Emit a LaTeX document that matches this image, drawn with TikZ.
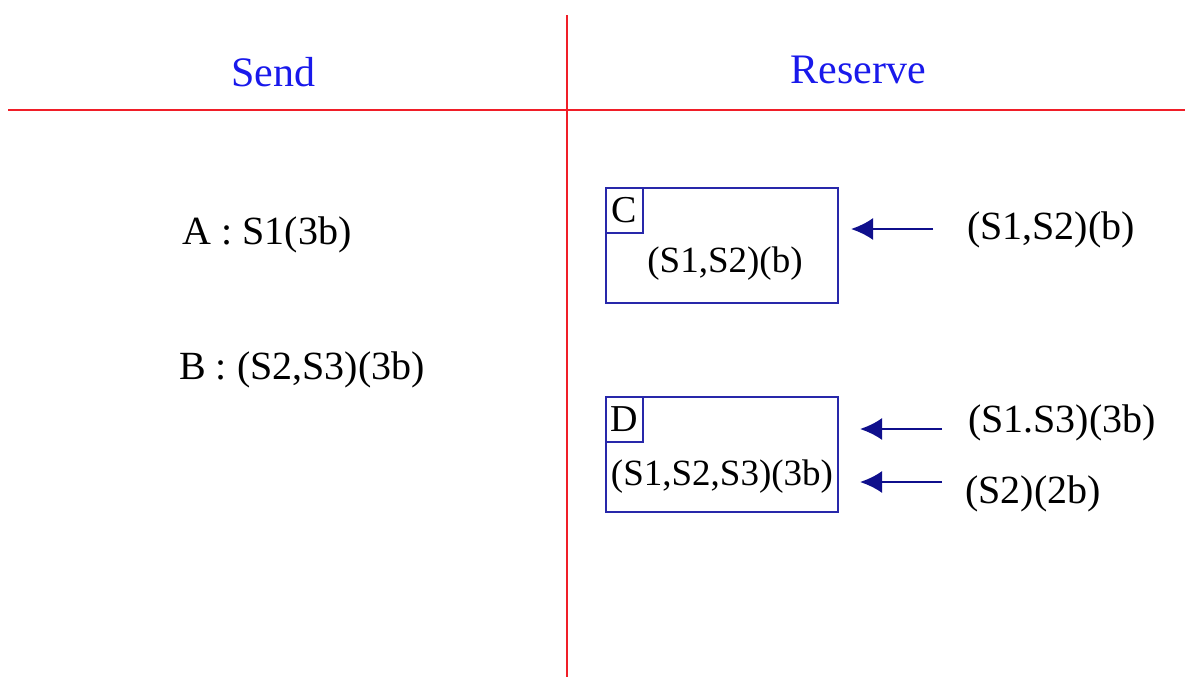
\documentclass[tikz,border=0pt]{standalone}
\usepackage{fontspec}
\setmainfont{Liberation Serif}
\usetikzlibrary{arrows.meta}
\definecolor{gridred}{RGB}{240,30,40}
\definecolor{headblue}{RGB}{25,25,235}
\definecolor{boxblue}{RGB}{40,40,170}
\definecolor{arrowblue}{RGB}{15,15,140}
\tikzset{
  txt/.style={inner sep=0pt,font=\fontsize{20}{24}\selectfont},
  head/.style={txt,text=headblue,font=\fontsize{21}{25}\selectfont},
  resbox/.style={draw=boxblue,line width=1.2pt,minimum width=116pt,minimum height=57.5pt,inner sep=0pt},
  tagbox/.style={draw=boxblue,line width=1.2pt,minimum width=18.5pt,minimum height=22.5pt,inner sep=0pt,anchor=north west,font=\fontsize{19}{23}\selectfont},
  feed/.style={draw=arrowblue,line width=1.2pt,-{Latex[length=11pt,width=11pt]}}
}
\begin{document}
\begin{tikzpicture}[x=0.5pt,y=-0.5pt]
  \useasboundingbox (0,0) rectangle (1185,677);
  \draw[gridred,line width=1.3pt] (8,110) -- (1185,110);
  \draw[gridred,line width=1.3pt] (567,15) -- (567,677);
  \node[head] (send) at (273,72) {Send};
  \node[head] (reserve) at (858,70) {Reserve};
  \node[txt] (A) at (267,235) {A : S1(3b)};
  \node[txt] (B) at (302,370) {B : (S2,S3)(3b)};
  % C
  \node[resbox] (C) at (722,245.5) {};
  \node[tagbox] (tagC) at (C.north west) {C};
  \node[txt,font=\fontsize{18.5}{22}\selectfont] (valC) at (725,264) {(S1,S2)(b)};
  \node[txt] (lblC) at (1051,230) {(S1,S2)(b)};
  \coordinate (outC) at (933,229);
  \coordinate (inC) at (851,229);
  \draw[feed] (outC) -- (inC);
  % D
  \node[resbox] (D) at (722,454.5) {};
  \node[tagbox] (tagD) at (D.north west) {D};
  \node[txt,font=\fontsize{18.5}{22}\selectfont] (valD) at (722,477) {(S1,S2,S3)(3b)};
  \node[txt] (lblD1) at (1062,423) {(S1.S3)(3b)};
  \node[txt] (lblD2) at (1033,494) {(S2)(2b)};
  \coordinate (outD1) at (942,429);
  \coordinate (inD1) at (860,429);
  \coordinate (outD2) at (942,482);
  \coordinate (inD2) at (860,482);
  \draw[feed] (outD1) -- (inD1);
  \draw[feed] (outD2) -- (inD2);
\end{tikzpicture}
\end{document}
